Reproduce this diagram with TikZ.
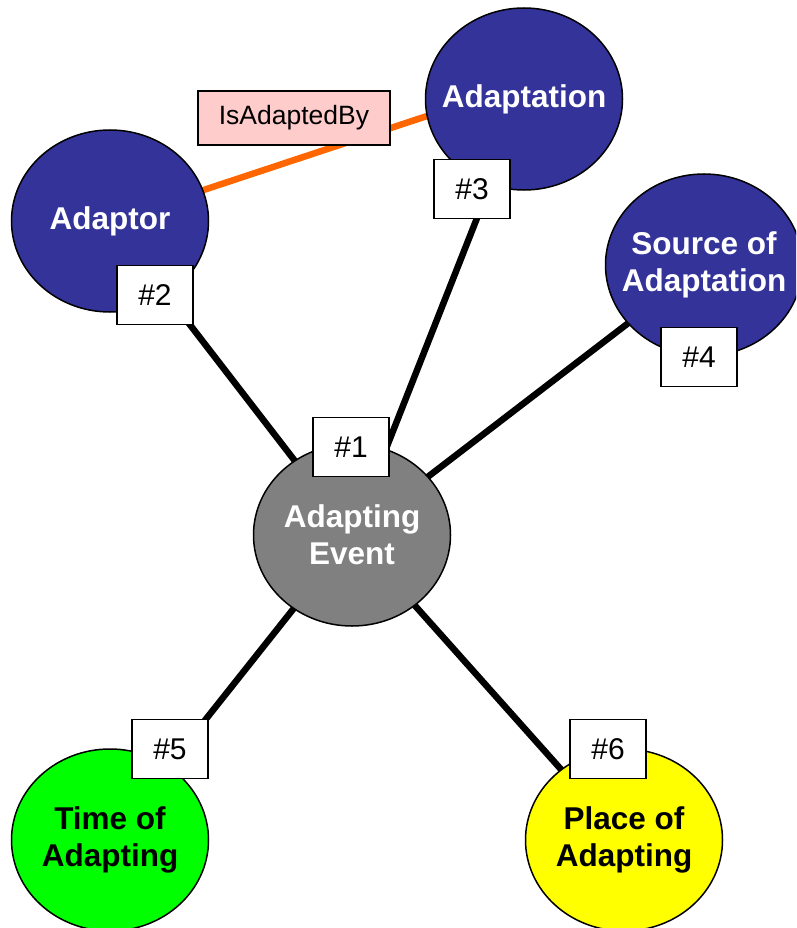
\documentclass[tikz,border=0pt]{standalone}
\usepackage{fontspec}
\setmainfont{Liberation Sans}
\usetikzlibrary{shapes.geometric}
\pgfdeclarelayer{background}
\pgfsetlayers{background,main}
\definecolor{adblue}{HTML}{333399}
\definecolor{adgray}{HTML}{808080}
\definecolor{adgreen}{HTML}{00FF00}
\definecolor{adyellow}{HTML}{FFFF00}
\definecolor{adorange}{HTML}{FF6600}
\definecolor{adpink}{HTML}{FFCCCC}
\begin{document}
\begin{tikzpicture}[x=1pt, y=-1pt,
  concept/.style={ellipse, draw=black, line width=1.5pt, minimum width=197pt,
    minimum height=182pt, inner xsep=-60pt, inner ysep=-40pt, align=center,
    font=\fontsize{31.5}{37}\selectfont\bfseries},
  tag/.style={draw=black, fill=white, line width=1.5pt, minimum width=76pt,
    minimum height=59pt, inner sep=0pt, font=\fontsize{30}{36}\selectfont},
  link/.style={line width=6.5pt, black}]
  \useasboundingbox (0,0) rectangle (796,928);
  \clip (0,0) rectangle (796,928);
  % concepts
  \node[concept, fill=adblue, text=white] (adaptor) at (110,221) {Adaptor};
  \node[concept, fill=adblue, text=white] (adaptation) at (524,99) {Adaptation};
  \node[concept, fill=adblue, text=white] (source) at (704,265) {Source of\\Adaptation};
  \node[concept, fill=adgray, text=white] (event) at (352,535) {Adapting\\Event};
  \node[concept, fill=adgreen] (time) at (110,840) {Time of\\Adapting};
  \node[concept, fill=adyellow] (place) at (624,840) {Place of\\Adapting};
  % connectors
  \begin{pgfonlayer}{background}
    \draw[link] (event.center) -- (adaptor.center);
    \draw[link] (event.center) -- (adaptation.center);
    \draw[link] (event.center) -- (source.center);
    \draw[link] (event.center) -- (time.center);
    \draw[link] (event.center) -- (place.center);
    \draw[line width=6.5pt, adorange, shorten >=-20pt] (adaptor.center) -- (adaptation.190);
  \end{pgfonlayer}
  % tags
  \node[draw=black, fill=adpink, line width=1.5pt, minimum width=192pt,
    minimum height=54pt, inner sep=0pt, font=\fontsize{26.5}{32}\selectfont]
    (rel) at (294,118) {IsAdaptedBy};
  \node[tag] (t1) at (351,447) {\#1};
  \node[tag] (t2) at (155,295) {\#2};
  \node[tag] (t3) at (472,189) {\#3};
  \node[tag] (t4) at (699,357) {\#4};
  \node[tag] (t5) at (170,749) {\#5};
  \node[tag] (t6) at (608,749) {\#6};
\end{tikzpicture}
\end{document}
